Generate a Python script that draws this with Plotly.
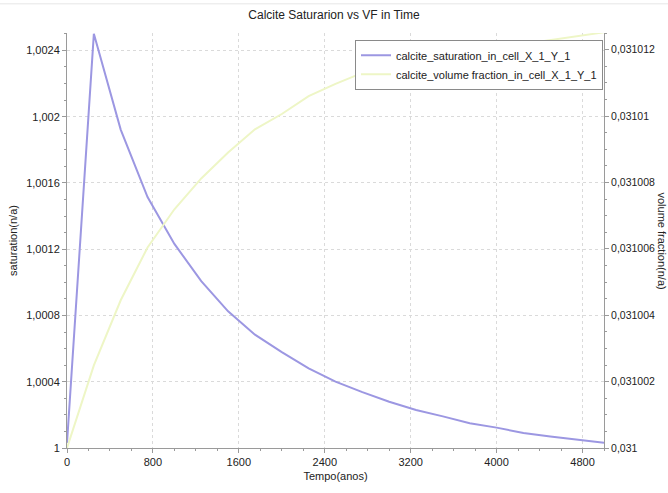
import plotly.graph_objects as go

# ---- data ----
tempo = [0, 250, 500, 750, 1000, 1250, 1500, 1750, 2000, 2250, 2500,
         2750, 3000, 3250, 3500, 3750, 4000, 4250, 4500, 4750, 5000]
saturation = [1.00003, 1.0025, 1.001922, 1.001515, 1.001232, 1.001007, 1.000825,
              1.000684, 1.000579, 1.000481, 1.000401, 1.000337, 1.000279,
              1.000229, 1.000191, 1.000150, 1.000123, 1.000090, 1.000069,
              1.000050, 1.000032]
volume_fraction = [0.031, 0.03100249, 0.03100445, 0.03100604, 0.03100719,
                   0.03100812, 0.03100890, 0.03100960, 0.03101006, 0.03101060,
                   0.03101097, 0.03101130, 0.03101153, 0.03101170, 0.03101185,
                   0.03101197, 0.03101205, 0.03101217, 0.03101229, 0.03101241,
                   0.03101252]
name_sat = "calcite_saturation_in_cell_X_1_Y_1"
name_vf = "calcite_volume fraction_in_cell_X_1_Y_1"

FONT = "Liberation Sans"
TXT = "#222222"
AX = "#9a9a9a"
GRID = "#dadada"

fig = go.Figure()
fig.add_trace(go.Scatter(x=tempo, y=saturation, mode="lines", name=name_sat,
                         line=dict(color="#9c97e2", width=2), yaxis="y"))
fig.add_trace(go.Scatter(x=tempo, y=volume_fraction, mode="lines", name=name_vf,
                         line=dict(color="#eef6c6", width=2), yaxis="y2"))

fig.update_layout(
    width=668, height=493,
    margin=dict(l=67, r=64, t=33, b=33),
    paper_bgcolor="white", plot_bgcolor="white",
    separators=", ",
    font=dict(family=FONT, size=11, color=TXT),
    title=dict(text="Calcite Saturarion vs VF in Time", x=0.5, xanchor="center",
               y=1 - 15/493, yanchor="middle", font=dict(size=12, color=TXT)),
    xaxis=dict(range=[0, 5000], dtick=800, tick0=0, showgrid=True,
               gridcolor=GRID, griddash="dot", gridwidth=1,
               zeroline=False, showline=True, linecolor=AX, linewidth=1,
               ticks="outside", ticklen=4, tickcolor=AX,
               minor=dict(dtick=200, ticks="outside", ticklen=2, tickcolor=AX, showgrid=False),
               title=dict(text="Tempo(anos)", standoff=5, font=dict(size=11)),
               tickfont=dict(size=11)),
    yaxis=dict(range=[1, 1.002505], dtick=0.0004, tick0=1, showgrid=True,
               gridcolor=GRID, griddash="dot", gridwidth=1,
               zeroline=False, showline=True, linecolor=AX, linewidth=1,
               ticks="outside", ticklen=4, tickcolor=AX,
               minor=dict(dtick=0.0001, ticks="outside", ticklen=2, tickcolor=AX, showgrid=False),
               title=dict(text="saturation(n/a)", standoff=6, font=dict(size=11)),
               tickfont=dict(size=11)),
    yaxis2=dict(range=[0.031, 0.0310125], dtick=0.000002, tick0=0.031,
                overlaying="y", side="right", showgrid=False, zeroline=False,
                showline=True, linecolor=AX, linewidth=1,
                ticks="outside", ticklen=4, tickcolor=AX,
                minor=dict(dtick=0.0000005, ticks="outside", ticklen=2, tickcolor=AX),
                tickfont=dict(size=10.5)),
    legend=dict(x=(355-67)/537, y=(460-40)/427, xanchor="left", yanchor="top",
                bgcolor="white", bordercolor="#8a8a8a", borderwidth=1,
                font=dict(size=11, color=TXT), itemwidth=30,
                tracegroupgap=0),
    showlegend=True,
)

fig.add_annotation(text="volume fraction(n/a)", textangle=90, xref="paper", yref="paper",
                   x=1 + (662-604)/537, y=0.5, xanchor="center", yanchor="middle",
                   showarrow=False, font=dict(size=11, color=TXT))
fig.add_shape(type="line", xref="paper", yref="paper", x0=-67/537, x1=1+64/537,
              y0=1 + (33-3)/427, y1=1 + (33-3)/427, line=dict(color="#e6e6e6", width=1))

fig.write_html("out.html")
